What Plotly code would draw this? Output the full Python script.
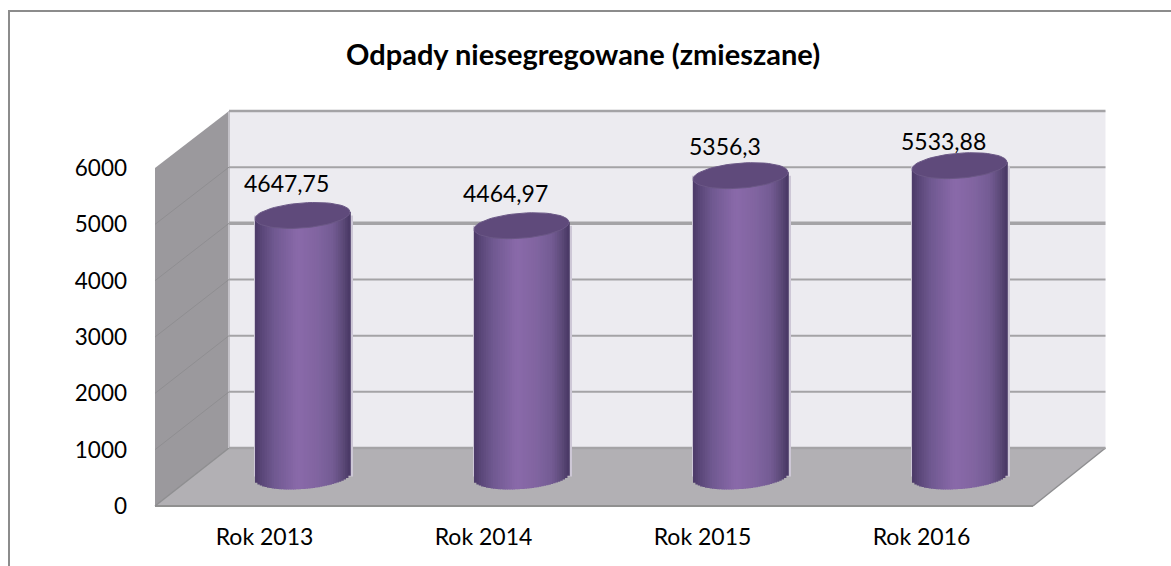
import math
import plotly.graph_objects as go

categories = ["Rok 2013", "Rok 2014", "Rok 2015", "Rok 2016"]
values = [4647.75, 4464.97, 5356.3, 5533.88]
value_labels = ["4647,75", "4464,97", "5356,3", "5533,88"]
y_ticks = [0, 1000, 2000, 3000, 4000, 5000, 6000]
title_text = "Odpady niesegregowane (zmieszane)"

W, H = 1171, 566
FONT = "Lato, Carlito, Calibri, sans-serif"


def px(x):
    return x / W


def py(y):
    return 1 - y / H


# scene geometry (pixels)
FRONT_L, FRONT_R, FRONT_B, FRONT_T = 155, 1031, 506, 168
BACK_L, BACK_R, BACK_B, BACK_T = 229, 1105.5, 448, 111
BAR_B, BAR_T = 476.5, 139.5
BAR_SHIFT = 38
PX_PER_UNIT = (BAR_B - BAR_T) / 6000
PX_PER_CAT = (FRONT_R - FRONT_L) / 4
BAR_AXIS_FLOOR = -500  # room below zero for the curved cylinder base
A = 47.5      # half width of the cylinder, px
B = 12.5      # ellipse half height, px
K = -3.5      # ellipse tilt, px


def poly(points):
    return "M " + " L ".join(f"{px(x):.5f},{py(y):.5f}" for x, y in points) + " Z"


def lerp(c1, c2, t):
    return tuple(c1[i] + (c2[i] - c1[i]) * t for i in range(3))


stops = [
    (0.00, (76, 58, 104)),
    (0.06, (88, 69, 118)),
    (0.20, (112, 89, 145)),
    (0.45, (138, 106, 170)),
    (0.65, (130, 101, 161)),
    (0.82, (116, 92, 148)),
    (0.93, (92, 73, 120)),
    (1.00, (72, 55, 100)),
]


def grad(t):
    for (a, ca), (b, cb) in zip(stops, stops[1:]):
        if t <= b:
            return "rgb(%d,%d,%d)" % lerp(ca, cb, (t - a) / (b - a))
    return "rgb(72,55,100)"


fig = go.Figure()
xs = list(range(len(categories)))

# pale fringe beside each cylinder
fig.add_trace(go.Bar(
    x=xs, y=values, width=(2 * A + 4) / PX_PER_CAT, offset=(-A - 1) / PX_PER_CAT,
    marker=dict(color="#cdc7d6", line=dict(width=0)),
    xaxis="x2", yaxis="y2", hoverinfo="skip", showlegend=False,
))

N = 40
sw = 2 * A / N
for k in range(N):
    left = -A + k * sw
    mid = left + sw / 2
    c = mid / A
    s = math.sqrt(max(0, 1 - c * c))
    low = B * s + K * c            # px below the base centre
    top = K * c                    # px below the top centre
    bases = [-low / PX_PER_UNIT for _ in values]
    heights = [v - top / PX_PER_UNIT + low / PX_PER_UNIT for v in values]
    fig.add_trace(go.Bar(
        x=xs, y=heights, base=bases,
        width=(sw + 0.8) / PX_PER_CAT, offset=left / PX_PER_CAT,
        marker=dict(color=grad((k + 0.5) / N), line=dict(width=0)),
        xaxis="x2", yaxis="y2", hoverinfo="skip", showlegend=False,
    ))

# top caps of the cylinders
for i, v in enumerate(values):
    cx, cy = [], []
    for d in range(0, 361, 6):
        t = math.radians(d)
        cx.append(i + A * math.cos(t) / PX_PER_CAT)
        cy.append(v - (B * math.sin(t) + K * math.cos(t)) / PX_PER_UNIT)
    fig.add_trace(go.Scatter(
        x=cx, y=cy, mode="lines", fill="toself", fillcolor="#5f4a7b",
        line=dict(color="#6b5886", width=1), xaxis="x2", yaxis="y2",
        hoverinfo="skip", showlegend=False,
    ))

# anchors for the visible axes
fig.add_trace(go.Scatter(x=categories, y=[0] * 4, mode="markers", marker=dict(opacity=0),
                         xaxis="x", yaxis="y", hoverinfo="skip", showlegend=False))

shapes = [
    # chart frame
    dict(type="line", xref="paper", yref="paper", x0=px(9), x1=px(9), y0=py(10), y1=py(566),
         line=dict(color="#8c8c8c", width=2), layer="below"),
    dict(type="line", xref="paper", yref="paper", x0=px(8), x1=1, y0=py(11), y1=py(11),
         line=dict(color="#8c8c8c", width=2), layer="below"),
    # back wall
    dict(type="path", xref="paper", yref="paper", layer="below", line=dict(width=0), fillcolor="#ecebf0",
         path=poly([(BACK_L, BACK_T), (BACK_R, BACK_T), (BACK_R, BACK_B), (BACK_L, BACK_B)])),
    # side wall
    dict(type="path", xref="paper", yref="paper", layer="below", line=dict(width=0), fillcolor="#9b999d",
         path=poly([(FRONT_L, FRONT_T), (BACK_L, BACK_T), (BACK_L, BACK_B), (FRONT_L, FRONT_B)])),
    # floor
    dict(type="path", xref="paper", yref="paper", layer="below", line=dict(width=0), fillcolor="#b2b0b4",
         path=poly([(FRONT_L, FRONT_B), (BACK_L, BACK_B), (BACK_R, BACK_B), (FRONT_R + 2, FRONT_B)])),
    # floor front edge and diagonals
    dict(type="line", xref="paper", yref="paper", layer="below", x0=px(FRONT_L), x1=px(FRONT_R + 2),
         y0=py(FRONT_B), y1=py(FRONT_B), line=dict(color="#909090", width=2)),
    dict(type="line", xref="paper", yref="paper", layer="below", x0=px(FRONT_L), x1=px(BACK_L),
         y0=py(FRONT_B), y1=py(BACK_B), line=dict(color="#8e8e90", width=1.5)),
    dict(type="line", xref="paper", yref="paper", layer="below", x0=px(FRONT_R + 2), x1=px(BACK_R),
         y0=py(FRONT_B), y1=py(BACK_B), line=dict(color="#8e8e90", width=1.5)),
    dict(type="line", xref="paper", yref="paper", layer="below", x0=px(BACK_L), x1=px(BACK_L),
         y0=py(BACK_T), y1=py(BACK_B), line=dict(color="#c4c2c8", width=2)),
]
for v in y_ticks:
    wy = BACK_B - (BACK_B - BACK_T) * v / 6000
    fy = FRONT_B - (FRONT_B - FRONT_T) * v / 6000
    thick = {4000: 3.5, 6000: 2.5, 0: 2.5}.get(v, 2)
    shapes.append(dict(type="line", xref="paper", yref="paper", layer="below",
                       x0=px(BACK_L), x1=px(BACK_R), y0=py(wy), y1=py(wy),
                       line=dict(color="#a4a3a6", width=thick)))
    if 0 < v < 6000:
        shapes.append(dict(type="line", xref="paper", yref="paper", layer="below",
                           x0=px(FRONT_L), x1=px(BACK_L), y0=py(fy), y1=py(wy),
                           line=dict(color="#8f8e91", width=1)))

annotations = [
    dict(text=f"<b>{title_text}</b>", xref="paper", yref="paper", x=px(583), y=py(53),
         showarrow=False, xanchor="center", yanchor="middle",
         font=dict(family=FONT, size=29, color="#000000")),
]
label_shift = [32, 33, 30, 25]
for i, (v, lab) in enumerate(zip(values, value_labels)):
    annotations.append(dict(text=lab, xref="x2", yref="y2", x=i, y=v, showarrow=False,
                            xshift=-16, yshift=label_shift[i], xanchor="center", yanchor="middle",
                            font=dict(family=FONT, size=23, color="#000000")))

fig.update_layout(
    width=W, height=H, margin=dict(l=0, r=0, t=0, b=0, autoexpand=False),
    paper_bgcolor="#ffffff", plot_bgcolor="rgba(0,0,0,0)",
    barmode="overlay", showlegend=False, shapes=shapes, annotations=annotations,
    font=dict(family=FONT, size=23, color="#000000"),
    xaxis=dict(domain=[px(FRONT_L), px(FRONT_R)], type="category", range=[-0.5, 3.5],
               showgrid=False, zeroline=False, showline=False, ticks="", automargin=False,
               anchor="y", tickfont=dict(size=23), ticklabelstandoff=15),
    yaxis=dict(domain=[py(FRONT_B), py(FRONT_T)], range=[0, 6000], tickvals=y_ticks,
               showgrid=False, zeroline=False, showline=False, ticks="", automargin=False,
               anchor="x", tickfont=dict(size=22.5), ticklabelstandoff=27),
    xaxis2=dict(domain=[px(FRONT_L + BAR_SHIFT), px(FRONT_R + BAR_SHIFT)], range=[-0.5, 3.5],
                visible=False, anchor="y2", automargin=False),
    yaxis2=dict(domain=[py(BAR_B - BAR_AXIS_FLOOR * PX_PER_UNIT), py(BAR_T)],
                range=[BAR_AXIS_FLOOR, 6000], visible=False, anchor="x2", automargin=False),
)

fig.write_html("out.html", config={"displayModeBar": False},
               post_script="document.body.style.margin='0';document.body.style.overflow='hidden';")
